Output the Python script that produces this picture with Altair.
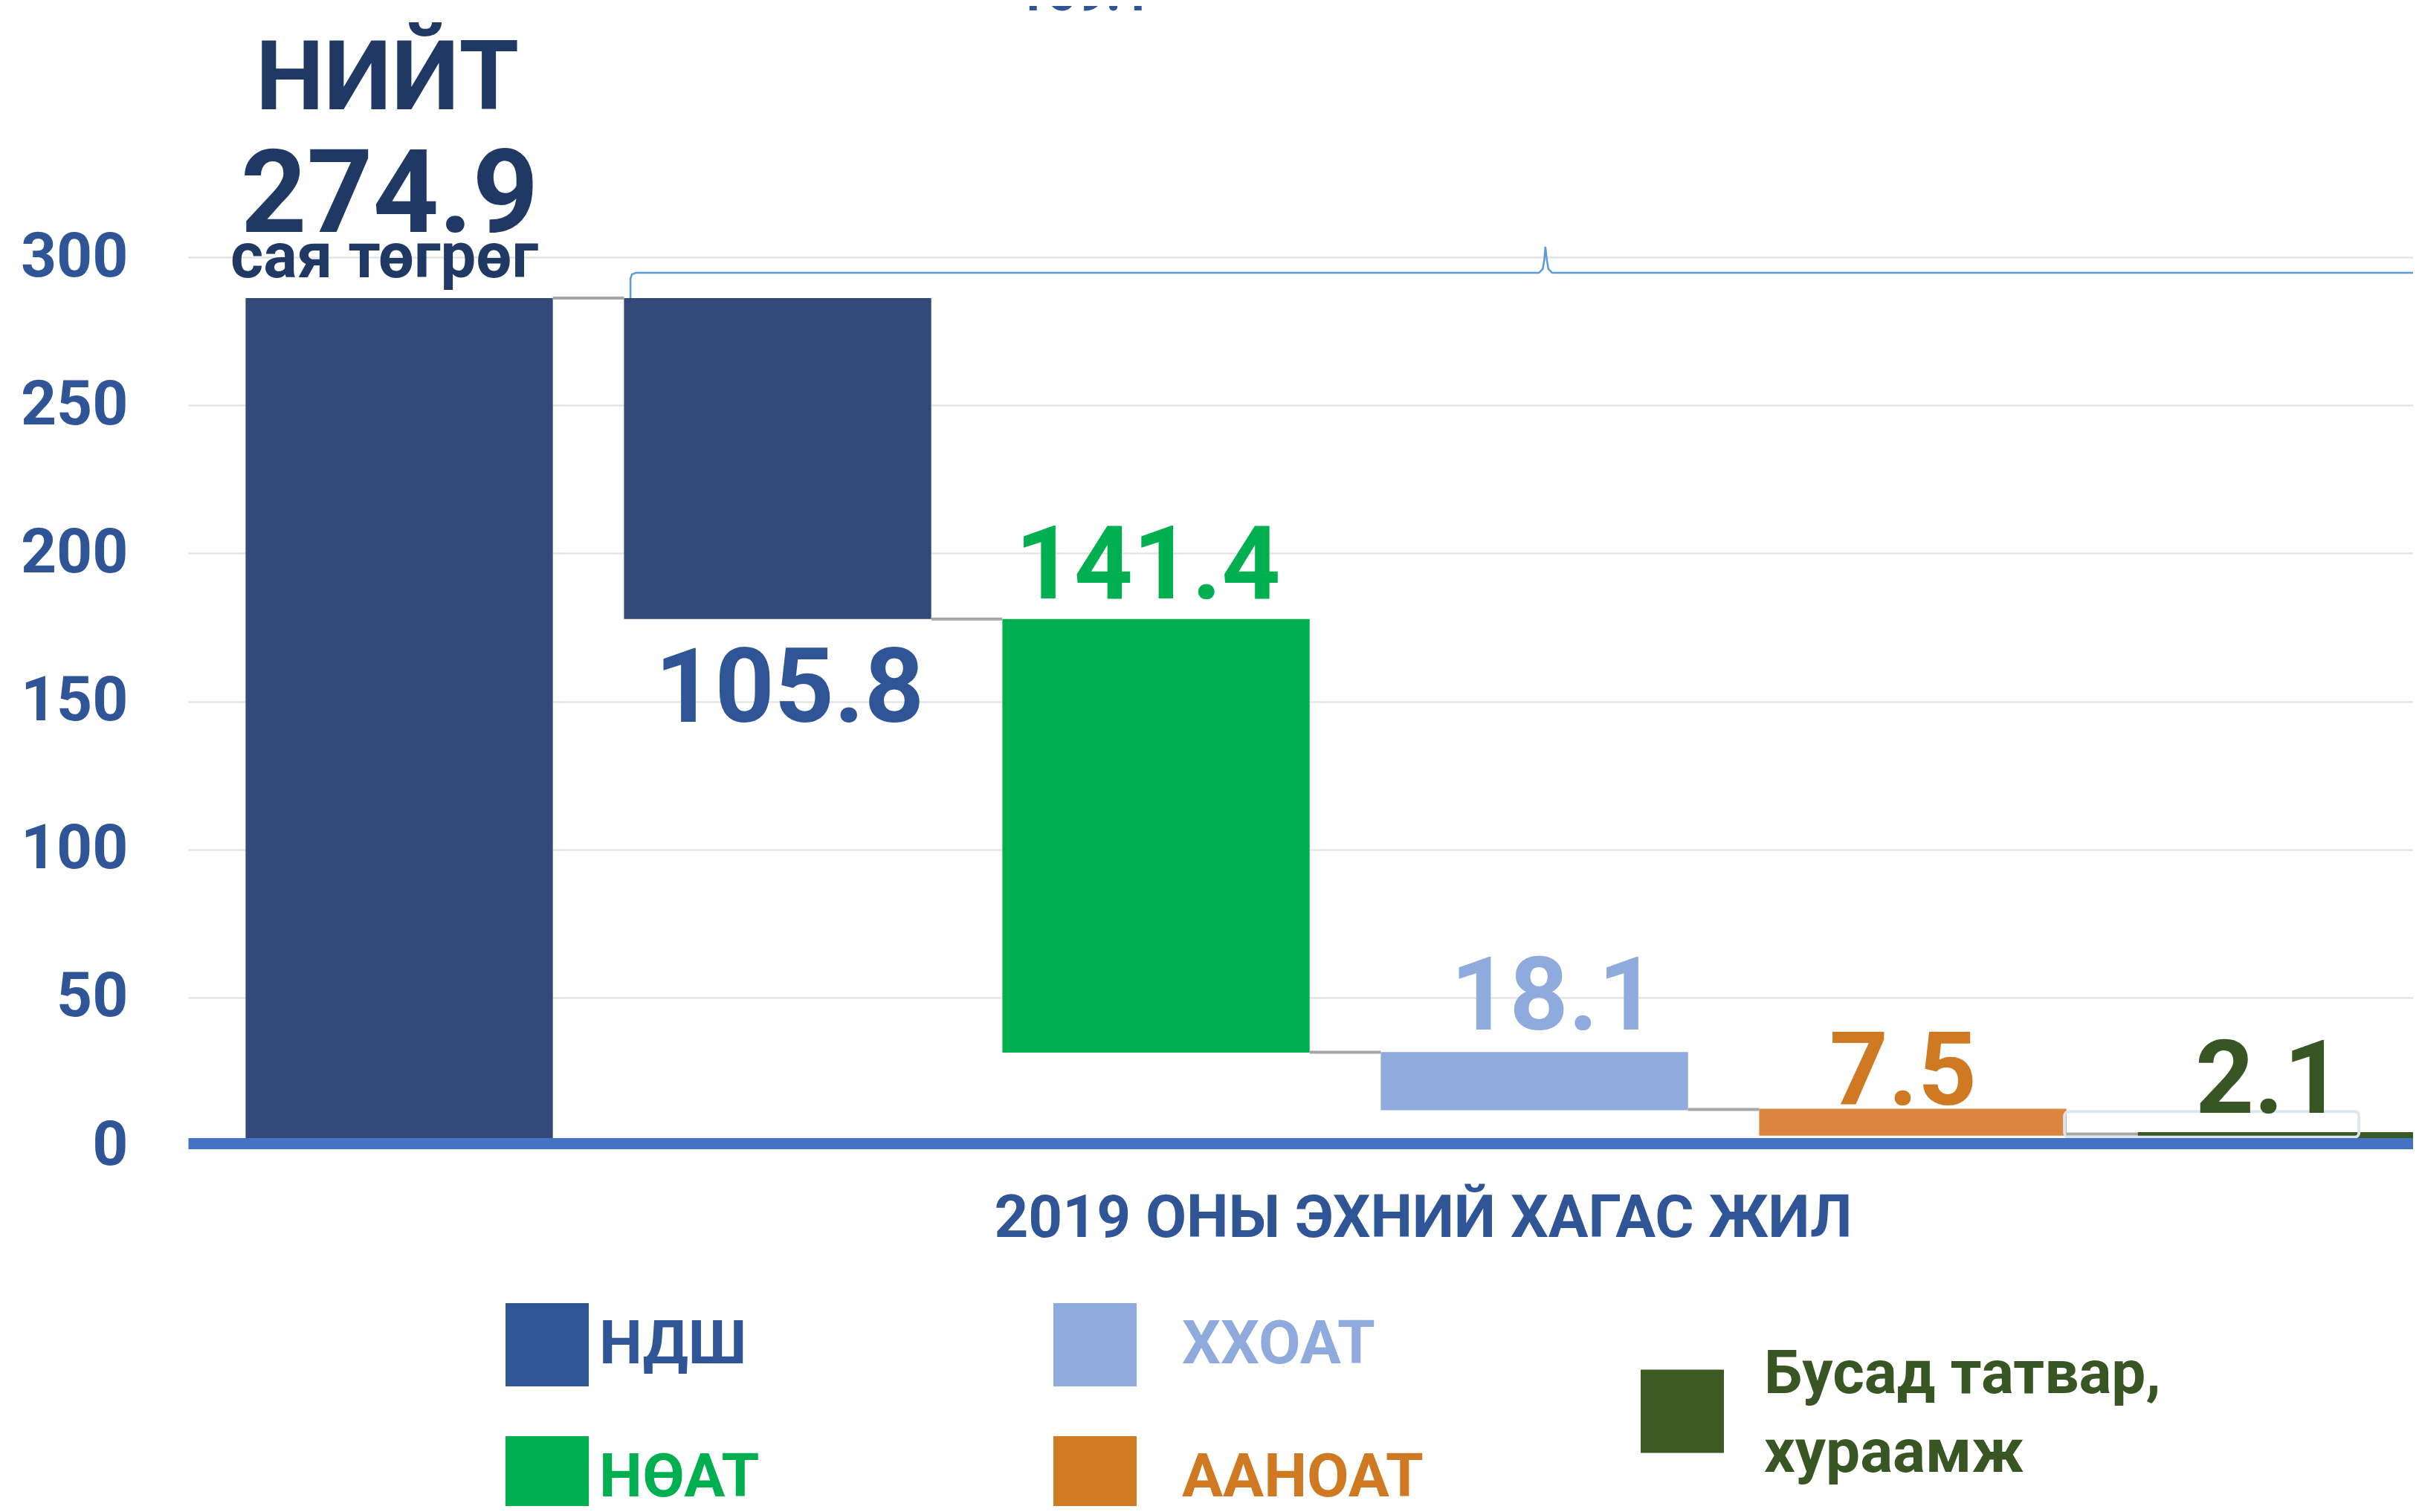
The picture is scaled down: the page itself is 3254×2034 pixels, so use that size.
import altair as alt
import pandas as pd

# ---------------- data ----------------
categories = ["НИЙТ", "НДШ", "НӨАТ", "ХХОАТ", "ААНОАТ", "Бусад татвар, хураамж"]
bar_start = [0.0, 286.2, 177.8, 31.6, 12.4, 4.5]
bar_end = [286.2, 177.8, 31.4, 11.9, 3.3, 0.0]
bar_colors = ["#32497A", "#32497A", "#00AF50", "#8FAADC", "#DA8640", "#3A5A24"]

value_labels = ["274.9", "105.8", "141.4", "18.1", "7.5", "2.1"]
label_colors = ["#203864", "#2F5597", "#00B050", "#8FAADC", "#CF7A22", "#375623"]
total_texts = ["НИЙТ", "274.9", "сая төгрөг"]
brace_label = "169.1"

y_ticks = [0, 50, 100, 150, 200, 250, 300]
x_title = "2019 ОНЫ ЭХНИЙ ХАГАС ЖИЛ"

legend_labels = ["НДШ", "НӨАТ", "ХХОАТ", "ААНОАТ", "Бусад татвар,\nхураамж"]
legend_colors = ["#2F5597", "#00B050", "#8FAADC", "#D07A22", "#3B5A24"]
legend_text_colors = ["#2F5597", "#00B050", "#8FAADC", "#CF7A22", "#375623"]
legend_col = [0, 0, 1, 1, 2]
legend_row = [0, 1, 0, 1, 0.5]

# brace annotation (category-index units, axis units)
brace_x = [0.611, 0.611, 0.615, 0.625, 3.012, 3.022, 3.026, 3.029, 3.033, 3.037, 3.047, 5.322]
brace_y = [286.2, 292.7, 294.2, 294.7, 294.7, 296.0, 299.0, 303.5, 299.0, 296.0, 294.7, 294.7]

ghost_x = [4.401, 5.179]
ghost_y = [2.8, 11.5]

# ---------------- styles / layout ----------------
FONT = "Roboto"
HW = 0.406
XDOM = [-0.558, 5.322]
W, H = 2993, 1195


def xs():
    return alt.Scale(domain=XDOM, nice=False, zero=False)


def ys():
    return alt.Scale(domain=[0, 300], nice=False, zero=True)


x_axis = alt.Axis(
    domain=True, domainColor="#4472C4", domainWidth=15, domainCap="butt",
    ticks=False, labels=False, grid=False, offset=-3, zindex=1,
    title=x_title, titleFont=FONT, titleFontSize=80, titleFontWeight="bold",
    titleColor="#2F5597", titleX=1661, titleY=125, titleAlign="center",
    titleBaseline="alphabetic", titleAngle=0,
)
y_axis = alt.Axis(
    values=y_ticks, domain=False, ticks=False, labelPadding=81,
    labelFont=FONT, labelFontSize=84, labelFontWeight="bold", labelColor="#2F5597",
    gridColor="#E4E4E4", gridWidth=2.5, title=None,
)

bars = pd.DataFrame({
    "cat": categories, "idx": list(range(len(categories))),
    "start": bar_start, "end": bar_end, "color": bar_colors,
})

bar_layer = alt.Chart(bars).transform_calculate(
    x0=f"datum.idx - {HW}", x1=f"datum.idx + {HW}"
).mark_rect(clip=True).encode(
    x=alt.X("x0:Q", scale=xs(), axis=x_axis),
    x2="x1:Q",
    y=alt.Y("start:Q", scale=ys(), axis=y_axis),
    y2="end:Q",
    color=alt.Color("color:N", scale=None),
)

conn = pd.DataFrame({
    "idx": list(range(len(categories) - 1)),
    "level": [(bar_end[i] + bar_start[i + 1]) / 2 for i in range(len(categories) - 1)],
})
conn_layer = alt.Chart(conn).transform_calculate(
    x0=f"datum.idx + {HW}", x1=f"datum.idx + 1 - {HW}"
).mark_rule(color="#A6A6A6", strokeWidth=4, clip=True).encode(
    x=alt.X("x0:Q", scale=xs(), axis=None),
    x2="x1:Q",
    y=alt.Y("level:Q", scale=ys(), axis=None),
)

ghost = pd.DataFrame({"x0": [ghost_x[0]], "x1": [ghost_x[1]], "y0": [ghost_y[0]], "y1": [ghost_y[1]]})
ghost_layer = alt.Chart(ghost).mark_rect(
    fillOpacity=0, stroke="#DCE6F2", strokeWidth=4, cornerRadius=6, clip=True
).encode(
    x=alt.X("x0:Q", scale=xs(), axis=None), x2="x1:Q",
    y=alt.Y("y0:Q", scale=ys(), axis=None), y2="y1:Q",
)

brace = pd.DataFrame({"bx": brace_x, "by": brace_y, "o": list(range(len(brace_x)))})
brace_layer = alt.Chart(brace).mark_line(color="#5B9BD5", strokeWidth=2.5).encode(
    x=alt.X("bx:Q", scale=xs(), axis=None),
    y=alt.Y("by:Q", scale=ys(), axis=None),
    order="o:Q",
)

brace_text = pd.DataFrame({"bx": [brace_x[7]], "by": [brace_y[7]], "t": [brace_label]})
brace_text_layer = alt.Chart(brace_text).mark_text(
    font=FONT, fontSize=70, fontWeight="bold", color="#2F5597",
    align="center", baseline="alphabetic", dx=-621, dy=-318,
).encode(
    x=alt.X("bx:Q", scale=xs(), axis=None),
    y=alt.Y("by:Q", scale=ys(), axis=None),
    text="t:N",
)

label_layers = []

# total annotations above the first bar: (dx, dy, size)
total_styles = [(-16, -254, 130), (-13, -89, 155), (-20, -28, 85)]
for txt, (dx, dy, fs) in zip(total_texts, total_styles):
    d = pd.DataFrame({"idx": [0], "v": [max(bar_start[0], bar_end[0])], "t": [txt]})
    label_layers.append(
        alt.Chart(d).mark_text(
            font=FONT, fontSize=fs, fontWeight="bold", color=label_colors[0],
            align="center", baseline="alphabetic", dx=dx, dy=dy,
        ).encode(
            x=alt.X("idx:Q", scale=xs(), axis=None),
            y=alt.Y("v:Q", scale=ys(), axis=None),
            text="t:N",
        )
    )

# value labels for the components: (dx, dy, size, anchor at bottom?)
value_styles = [None, (16, 138, 140, True), (-11, -28, 138, False), (26, -30, 138, False),
                (-13, -6, 138, False), (-30, -26, 138, False)]
for i in range(1, len(categories)):
    dx, dy, fs, bottom = value_styles[i]
    anchor = min(bar_start[i], bar_end[i]) if bottom else max(bar_start[i], bar_end[i])
    d = pd.DataFrame({"idx": [i], "v": [anchor], "t": [value_labels[i]]})
    label_layers.append(
        alt.Chart(d).mark_text(
            font=FONT, fontSize=fs, fontWeight="bold", color=label_colors[i],
            align="center", baseline="alphabetic", dx=dx, dy=dy,
        ).encode(
            x=alt.X("idx:Q", scale=xs(), axis=None),
            y=alt.Y("v:Q", scale=ys(), axis=None),
            text="t:N",
        )
    )

# ---------------- custom legend ----------------
leg = pd.DataFrame({
    "label": legend_labels, "color": legend_colors, "tcolor": legend_text_colors,
    "col": legend_col, "row": legend_row,
})


def leg_y():
    return alt.Y("row:Q", scale=alt.Scale(domain=[0, 1], range=[1463, 1642]), axis=None)


def leg_tx():
    return alt.X("col:Q", scale=alt.Scale(domain=[0, 1, 2], range=[553, 1337, 2120]), axis=None)


legend_sq = alt.Chart(leg).mark_square(size=12544, opacity=1).encode(
    x=alt.X("col:Q", scale=alt.Scale(domain=[0, 1, 2], range=[483, 1220, 2010]), axis=None),
    y=leg_y(),
    color=alt.Color("tcolor:N", scale=None) if False else alt.Color("color:N", scale=None),
)
legend_txt = alt.Chart(leg).transform_filter("datum.col < 2").mark_text(
    font=FONT, fontSize=82, fontWeight="bold", align="left", baseline="middle",
).encode(
    x=leg_tx(), y=leg_y(), text="label:N",
    color=alt.Color("tcolor:N", scale=None),
)
legend_txt2 = alt.Chart(leg).transform_filter("datum.col == 2").mark_text(
    font=FONT, fontSize=82, fontWeight="bold", align="left", baseline="middle",
    lineBreak="\n", lineHeight=106, dy=-50,
).encode(
    x=leg_tx(), y=leg_y(), text="label:N",
    color=alt.Color("tcolor:N", scale=None),
)

chart = alt.layer(
    bar_layer, ghost_layer, conn_layer, brace_layer, brace_text_layer, *label_layers,
    legend_sq, legend_txt, legend_txt2,
).resolve_scale(
    x="independent", y="independent"
).properties(
    width=W, height=H,
    padding={"left": 245, "top": 338, "right": 0, "bottom": 485},
    autosize=alt.AutoSizeParams(type="none"),
).configure(
    background="white", font=FONT,
).configure_view(stroke=None)

chart.save("out.html", embed_options={"renderer": "svg", "actions": False})
